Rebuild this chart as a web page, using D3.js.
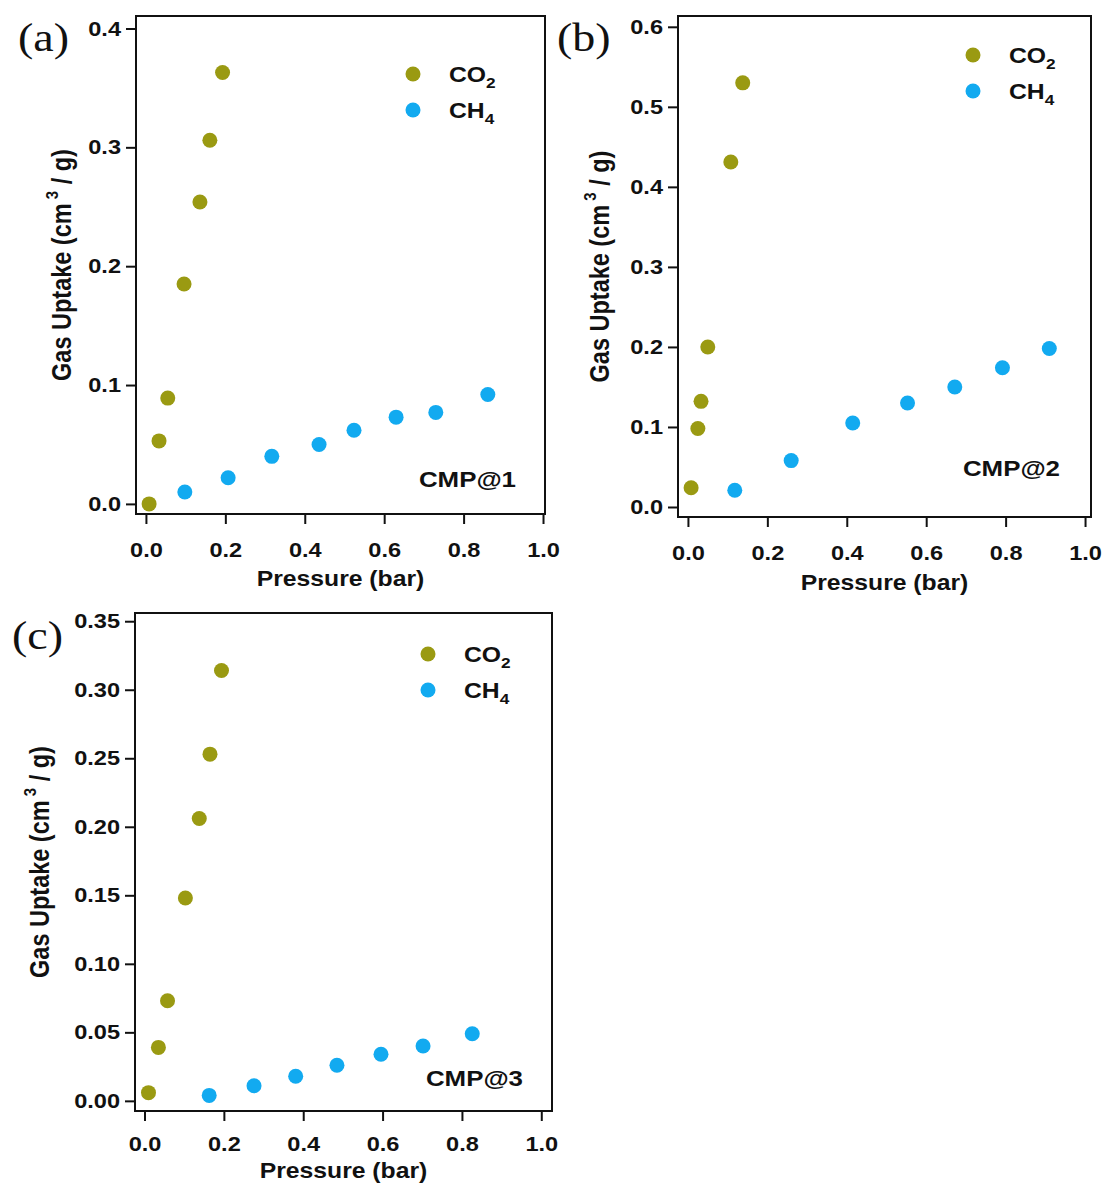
<!DOCTYPE html>
<html>
<head>
<meta charset="utf-8">
<script src="https://cdn.jsdelivr.net/npm/d3@7"></script>
<style>
  body { margin: 0; background: #fff; }
  svg text { font-family: "Liberation Sans", Arial, sans-serif; font-weight: bold; fill: #111; }
  svg text.panel { font-family: "Liberation Serif", "Times New Roman", serif; font-weight: normal; }
</style>
</head>
<body>
<svg id="chart" width="1107" height="1187"></svg>
<script>
const X_TICKS = [0, 0.2, 0.4, 0.6, 0.8, 1.0]
const Y_TICKS_A = [0, 0.1, 0.2, 0.3, 0.4]
const Y_TICKS_B = [0, 0.1, 0.2, 0.3, 0.4, 0.5, 0.6]
const Y_TICKS_C = [0, 0.05, 0.10, 0.15, 0.20, 0.25, 0.30, 0.35]

// CMP@1
const A_CO2_P = [0.008, 0.033, 0.055, 0.096, 0.136, 0.161, 0.193]
const A_CO2_U = [0.000, 0.053, 0.089, 0.185, 0.254, 0.306, 0.363]
const A_CH4_P = [0.098, 0.207, 0.317, 0.436, 0.524, 0.630, 0.730, 0.861]
const A_CH4_U = [0.010, 0.022, 0.040, 0.050, 0.062, 0.073, 0.077, 0.092]

// CMP@2
const B_CO2_P = [0.008, 0.025, 0.033, 0.050, 0.108, 0.138]
const B_CO2_U = [0.024, 0.098, 0.132, 0.200, 0.431, 0.530]
const B_CH4_P = [0.118, 0.260, 0.415, 0.553, 0.672, 0.792, 0.910]
const B_CH4_U = [0.021, 0.058, 0.105, 0.130, 0.150, 0.174, 0.198]

// CMP@3
const C_CO2_P = [0.010, 0.035, 0.058, 0.103, 0.138, 0.165, 0.194]
const C_CO2_U = [0.006, 0.039, 0.073, 0.148, 0.206, 0.253, 0.314]
const C_CH4_P = [0.163, 0.276, 0.381, 0.485, 0.596, 0.702, 0.826]
const C_CH4_U = [0.004, 0.011, 0.018, 0.026, 0.034, 0.040, 0.049]

const CO2_COLOR = "#9a9a12"
const CH4_COLOR = "#12aaf0"
const R = 7.5
const SX = 1.15   // the source figure's text is a bit stretched sideways

const svg = d3.select("#chart")

function zip(xs, ys) { return xs.map((x, i) => ({x: x, y: ys[i]})) }

function stretchedText(g, x, y, size, anchor) {
  return g.append("text").attr("transform", `translate(${x}, ${y}) scale(${SX}, 1)`)
    .attr("text-anchor", anchor).attr("font-size", size)
}

function drawPanel(p) {
  const g = svg.append("g")
  let x = d3.scaleLinear().domain(p.xDom).range([p.left, p.right])
  let y = d3.scaleLinear().domain(p.yDom).range([p.bottom, p.top])

  // axes, ticks outside
  let xAxis = g.append("g").attr("transform", `translate(0, ${p.bottom})`)
    .call(d3.axisBottom(x).tickValues(X_TICKS).tickFormat(d3.format(".1f")).tickSize(10).tickPadding(p.xPad))
  let yAxis = g.append("g").attr("transform", `translate(${p.left}, 0)`)
    .call(d3.axisLeft(y).tickValues(p.yTicks).tickFormat(d3.format(p.yFmt)).tickSize(10).tickPadding(5))
  for (let ax of [xAxis, yAxis]) {
    ax.select(".domain").remove()
    ax.selectAll(".tick line").attr("stroke", "#111").attr("stroke-width", 2)
    ax.selectAll(".tick text").attr("font-size", 20.5).attr("fill", "#111")
      .style("font-family", "Liberation Sans, Arial, sans-serif").style("font-weight", "bold")
      .attr("transform", `scale(${SX}, 1)`)
  }
  yAxis.selectAll(".tick text").attr("x", -15 / SX)

  // frame
  g.append("rect").attr("x", p.left).attr("y", p.top)
    .attr("width", p.right - p.left).attr("height", p.bottom - p.top)
    .attr("fill", "none").attr("stroke", "#111").attr("stroke-width", 2)

  // points
  g.append("g").selectAll("circle").data(zip(p.co2P, p.co2U)).join("circle")
    .attr("cx", d => x(d.x)).attr("cy", d => y(d.y)).attr("r", R).attr("fill", CO2_COLOR)
  g.append("g").selectAll("circle").data(zip(p.ch4P, p.ch4U)).join("circle")
    .attr("cx", d => x(d.x)).attr("cy", d => y(d.y)).attr("r", R).attr("fill", CH4_COLOR)

  // axis titles
  stretchedText(g, (p.left + p.right) / 2, p.bottom + p.xTitleOff, 21.5, "middle").text("Pressure (bar)")
  let yt = g.append("text")
    .attr("transform", `translate(${p.left - p.yTitleOff}, ${(p.top + p.bottom) / 2}) rotate(-90) scale(1, ${SX})`)
    .attr("text-anchor", "middle").attr("font-size", 23.5)
  yt.append("tspan").text("Gas Uptake (cm")
  yt.append("tspan").attr("dy", -11).attr("font-size", 15).text(" 3")
  yt.append("tspan").attr("dy", 11).text(" / g)")

  // legend
  const legend = [["CO", "2", CO2_COLOR], ["CH", "4", CH4_COLOR]]
  legend.forEach((l, i) => {
    let ly = p.legY + i * 36
    g.append("circle").attr("cx", p.legX).attr("cy", ly).attr("r", R).attr("fill", l[2])
    let t = stretchedText(g, p.legX + 36, ly + 8, 21.5, "start")
    t.append("tspan").text(l[0])
    t.append("tspan").attr("dy", 6).attr("font-size", 15).text(l[1])
  })

  // sample label
  stretchedText(g, p.right - p.tagOff, p.tagY, 22.5, "end").text(p.tag)

  // panel letter
  stretchedText(g, p.letterX, p.letterY, 40, "start").attr("class", "panel").text(p.letter)
}

drawPanel({
  left: 136, right: 545, top: 16, bottom: 514,
  xDom: [-0.025, 1.005], yDom: [-0.0085, 0.4105], yTicks: Y_TICKS_A, yFmt: ".1f",
  co2P: A_CO2_P, co2U: A_CO2_U, ch4P: A_CH4_P, ch4U: A_CH4_U,
  xPad: 18, xTitleOff: 72, yTitleOff: 65, legX: 413, legY: 74, tag: "CMP@1", tagOff: 29, tagY: 487,
  letter: "(a)", letterX: 18, letterY: 51
})

drawPanel({
  left: 678, right: 1091, top: 16, bottom: 517,
  xDom: [-0.025, 1.015], yDom: [-0.0125, 0.6135], yTicks: Y_TICKS_B, yFmt: ".1f",
  co2P: B_CO2_P, co2U: B_CO2_U, ch4P: B_CH4_P, ch4U: B_CH4_U,
  xPad: 18, xTitleOff: 73, yTitleOff: 69, legX: 973, legY: 55, tag: "CMP@2", tagOff: 31, tagY: 476,
  letter: "(b)", letterX: 557, letterY: 51
})

drawPanel({
  left: 135, right: 552, top: 613, bottom: 1111,
  xDom: [-0.024, 1.027], yDom: [-0.0074, 0.356], yTicks: Y_TICKS_C, yFmt: ".2f",
  co2P: C_CO2_P, co2U: C_CO2_U, ch4P: C_CH4_P, ch4U: C_CH4_U,
  xPad: 15, xTitleOff: 67, yTitleOff: 86, legX: 428, legY: 654, tag: "CMP@3", tagOff: 29, tagY: 1086,
  letter: "(c)", letterX: 12, letterY: 649
})
</script>
</body>
</html>
